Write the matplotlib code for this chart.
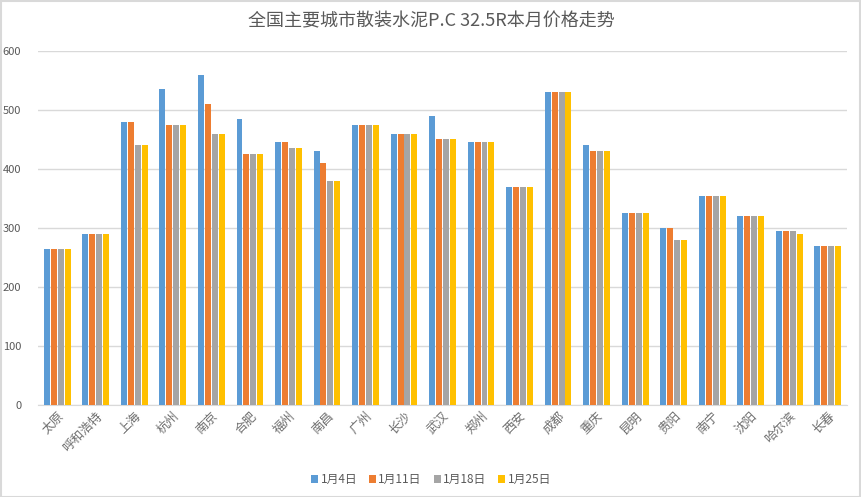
import numpy as np
import matplotlib
matplotlib.use('Agg')
import matplotlib.pyplot as plt
from matplotlib.patches import Rectangle

plt.rcParams['font.family'] = ['Noto Sans CJK SC', 'DejaVu Sans']

# data
cities = ['太原', '呼和浩特', '上海', '杭州', '南京', '合肥', '福州', '南昌', '广州', '长沙',
          '武汉', '郑州', '西安', '成都', '重庆', '昆明', '贵阳', '南宁', '沈阳', '哈尔滨', '长春']
series_names = ['1月4日', '1月11日', '1月18日', '1月25日']
jan4 = [265, 290, 480, 535, 560, 485, 445, 430, 475, 460, 490, 445, 370, 530, 440, 325, 300, 355, 320, 295, 270]
jan11 = [265, 290, 480, 475, 510, 425, 445, 410, 475, 460, 450, 445, 370, 530, 430, 325, 300, 355, 320, 295, 270]
jan18 = [265, 290, 440, 475, 460, 425, 435, 380, 475, 460, 450, 445, 370, 530, 430, 325, 280, 355, 320, 295, 270]
jan25 = [265, 290, 440, 475, 460, 425, 435, 380, 475, 460, 450, 445, 370, 530, 430, 325, 280, 355, 320, 290, 270]
colors = ['#5B9BD5', '#ED7D31', '#A5A5A5', '#FFC000']

fig = plt.figure(figsize=(8.62, 4.97), dpi=100)
ax = fig.add_axes([0.0441, 0.1851, 0.9385, 0.7123])

x = np.arange(len(cities))
w = 0.155
step = 0.18
for i, (vals, name) in enumerate(zip([jan4, jan11, jan18, jan25], series_names)):
    ax.bar(x + (i - 1.5) * step, vals, width=w, color=colors[i], label=name, zorder=3)

ax.set_ylim(0, 600)
ax.set_xlim(-0.5, len(cities) - 0.5)
ax.set_yticks(range(0, 601, 100))
ax.yaxis.grid(True, color='#D9D9D9', linewidth=1, zorder=0)
ax.tick_params(axis='y', length=0, labelsize=8, labelcolor='#595959', pad=12)
ax.tick_params(axis='x', length=0, labelsize=9, labelcolor='#6E6E6E')
ax.set_xticks(x)
ax.set_xticklabels(cities, rotation=45, ha='right', rotation_mode='anchor')
for s in ['left', 'right', 'top']:
    ax.spines[s].set_visible(False)
ax.spines['bottom'].set_color('#D9D9D9')

fig.suptitle('全国主要城市散装水泥P.C 32.5R本月价格走势', y=0.975, fontsize=13, color='#595959')

fig.legend(loc='lower center', bbox_to_anchor=(0.5, 0.0), ncol=4, frameon=False,
           fontsize=8.5, handlelength=0.6, handleheight=0.6, handletextpad=0.2, columnspacing=1.0,
           labelcolor='#595959')

fig.patches.append(Rectangle((0.001, 0.001), 0.997, 0.997, transform=fig.transFigure,
                             fill=False, edgecolor='#D9D9D9', linewidth=1.5))

fig.savefig('out.png', dpi=100)
